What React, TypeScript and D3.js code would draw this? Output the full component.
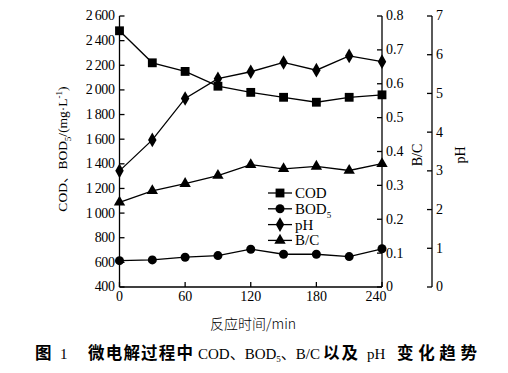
import React from "react";
import * as d3 from "d3";

// reaction time (min)
const times = [0, 30, 60, 90, 120, 150, 180, 210, 240];
// mg/L
const cod = [2480, 2220, 2150, 2030, 1980, 1940, 1900, 1940, 1960];
const bod5 = [614, 620, 642, 655, 707, 666, 666, 647, 710];
const ph = [3.0, 3.8, 4.87, 5.38, 5.56, 5.8, 5.6, 5.97, 5.82];
const bc = [0.25, 0.284, 0.305, 0.329, 0.361, 0.349, 0.356, 0.344, 0.364];

const xTicks = [0, 60, 120, 180, 240];
const leftTicks = [400, 600, 800, 1000, 1200, 1400, 1600, 1800, 2000, 2200, 2400, 2600];
const bcTicks = [0, 0.1, 0.2, 0.3, 0.4, 0.5, 0.6, 0.7, 0.8];
const phTicks = [0, 1, 2, 3, 4, 5, 6, 7];

const serif = "'Liberation Serif', 'Noto Sans CJK SC', serif";
const cjk = "'Noto Sans CJK SC', sans-serif";

const width = 508;
const height = 373;
const sw = 1.3;

export default function App() {
  const x = d3.scaleLinear().domain([0, 240]).range([119.5, 382]);
  const yLeft = d3.scaleLinear().domain([400, 2600]).range([287, 16]);
  const yBC = d3.scaleLinear().domain([0, 0.8]).range([287, 16]);
  const yPH = d3.scaleLinear().domain([0, 7]).range([287, 16]);

  const leftFmt = (d: number) =>
    d >= 1000 ? `${Math.floor(d / 1000)}\u2009${String(d % 1000).padStart(3, "0")}` : String(d);
  const bcFmt = (d: number) => (d === 0 ? "0" : d3.format(".1f")(d));

  const series = [
    { name: "COD", vals: cod, y: yLeft, sym: d3.symbolSquare, size: 78 },
    { name: "BOD", sub: "5", vals: bod5, y: yLeft, sym: d3.symbolCircle, size: 64 },
    { name: "pH", vals: ph, y: yPH, sym: d3.symbolDiamond, size: 62 },
    { name: "B/C", vals: bc, y: yBC, sym: d3.symbolTriangle, size: 56 },
  ];

  const x0 = x.range()[0];
  const x1 = x.range()[1];
  const yb = yLeft.range()[0];
  const phX = 432;

  // right-hand vertical axis with ticks pointing left and labels on the right
  const rightAxis = (scale: d3.ScaleLinear<number, number>, ticks: number[], fmt: (d: number) => string, ax: number) => (
    <g transform={`translate(${ax},0)`} fontFamily={serif} fontSize={14}>
      <line x1={0} x2={0} y1={scale.range()[0]} y2={scale.range()[1]} stroke="#000" strokeWidth={sw} />
      {ticks.map((t) => (
        <g key={t} transform={`translate(0,${scale(t)})`}>
          <line x1={-5} x2={0} stroke="#000" strokeWidth={sw} />
          <text x={4} dy="0.32em">{fmt(t)}</text>
        </g>
      ))}
    </g>
  );

  return (
    <svg
      width={width}
      height={height}
      style={{ position: "absolute", left: 0, top: 0, background: "#fff" }}
    >
      {series.map((s) => {
        const line = d3
          .line<number>()
          .x((_, i) => x(times[i]))
          .y((v) => s.y(v));
        const sym = d3.symbol().type(s.sym).size(s.size);
        return (
          <g key={s.name}>
            <path d={line(s.vals) || ""} fill="none" stroke="#000" strokeWidth={sw} />
            {s.vals.map((v, i) => (
              <path
                key={i}
                d={sym() || ""}
                transform={`translate(${x(times[i])},${s.y(v)})`}
                fill="#000"
              />
            ))}
          </g>
        );
      })}

      {/* bottom axis */}
      <g fontFamily={serif} fontSize={14} textAnchor="middle">
        <line x1={x0} x2={x1} y1={yb} y2={yb} stroke="#000" strokeWidth={sw} />
        {xTicks.map((t) => (
          <g key={t} transform={`translate(${x(t)},${yb})`}>
            <line y1={-5} y2={0} stroke="#000" strokeWidth={sw} />
            <text x={t === 240 ? -6 : 0} y={4} dy="0.71em">{t}</text>
          </g>
        ))}
      </g>

      {/* left axis */}
      <g fontFamily={serif} fontSize={14} textAnchor="end">
        <line x1={x0} x2={x0} y1={yLeft.range()[0]} y2={yLeft.range()[1]} stroke="#000" strokeWidth={sw} />
        {leftTicks.map((t) => (
          <g key={t} transform={`translate(${x0},${yLeft(t)})`}>
            <line x1={0} x2={5} stroke="#000" strokeWidth={sw} />
            <text x={-5} dy="0.32em" letterSpacing={-0.4}>{leftFmt(t)}</text>
          </g>
        ))}
      </g>

      {rightAxis(yBC, bcTicks, bcFmt, x1)}
      {rightAxis(yPH, phTicks, (d) => String(d), phX)}

      {/* axis titles */}
      <text
        transform="translate(67,149) rotate(-90)"
        textAnchor="middle"
        fontFamily={serif}
        fontSize={13.5}
      >
        COD、BOD<tspan fontSize={9} dy={4}>5</tspan>
        <tspan dy={-4}>/(mg·L</tspan>
        <tspan fontSize={9} dy={-5}>-1</tspan>
        <tspan dy={5}>)</tspan>
      </text>
      <text transform="translate(422,155) rotate(-90)" textAnchor="middle" fontFamily={serif} fontSize={14}>
        B/C
      </text>
      <text transform="translate(465,155) rotate(-90)" textAnchor="middle" fontFamily={serif} fontSize={14}>
        pH
      </text>
      <text x={253} y={329} textAnchor="middle" fontFamily={cjk} fontSize={14} fontWeight={300}>
        反应时间/min
      </text>

      {/* legend */}
      {series.map((s, i) => {
        const ly = 193 + i * 15.8;
        const sym = d3.symbol().type(s.sym).size(s.size);
        return (
          <g key={"lg" + s.name}>
            <line x1={268} x2={292} y1={ly} y2={ly} stroke="#000" strokeWidth={sw} />
            <path d={sym() || ""} transform={`translate(280,${ly})`} fill="#000" />
            <text x={295} y={ly + 5} fontFamily={serif} fontSize={15}>
              {s.name}
              {s.sub ? (
                <tspan fontSize={9} dy={4}>
                  {s.sub}
                </tspan>
              ) : null}
            </text>
          </g>
        );
      })}

      {/* caption */}
      <g fontSize={16.5}>
        <text x={35} y={359} fontFamily={cjk} fontWeight={700}>图</text>
        <text x={60} y={359} fontFamily={serif} fontSize={15}>1</text>
        <text x={88} y={359} fontFamily={cjk} fontWeight={700} textLength={105} lengthAdjust="spacing">
          微电解过程中
        </text>
        <text x={198} y={359} fontFamily={serif} fontSize={15}>
          COD、BOD<tspan fontSize={9} dy={3}>5</tspan>
          <tspan dy={-3}>、B/C</tspan>
        </text>
        <text x={323} y={359} fontFamily={cjk} fontWeight={700} textLength={35} lengthAdjust="spacing">
          以及
        </text>
        <text x={367} y={359} fontFamily={serif} fontSize={15}>pH</text>
        <text x={397} y={359} fontFamily={cjk} fontWeight={700} textLength={80} lengthAdjust="spacing">
          变化趋势
        </text>
      </g>
    </svg>
  );
}
